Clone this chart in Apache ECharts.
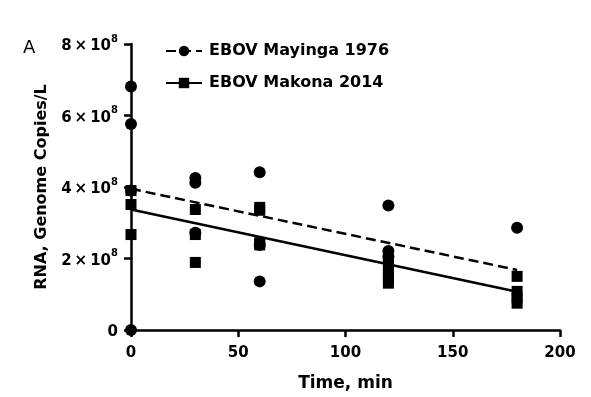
<!DOCTYPE html>
<html>
<head>
<meta charset="utf-8">
<script src="https://cdn.jsdelivr.net/npm/echarts@6/dist/echarts.min.js"></script>
<style>
  html, body { margin: 0; padding: 0; background: #fff; }
  #chart { width: 591px; height: 397px; }
</style>
</head>
<body>
<div id="chart"></div>
<script>
  // raw points, [time min, copies/L]
  var mayingaPoints = [
      [0, 6.81e8], [0, 5.76e8], [0, 3.9e8], [0, 0],
      [30, 4.25e8], [30, 4.12e8], [30, 2.72e8],
      [60, 4.41e8], [60, 2.38e8], [60, 1.36e8],
      [120, 3.48e8], [120, 2.21e8], [120, 2.05e8],
      [180, 2.86e8]
  ];
  var makonaPoints = [
      [0, 3.9e8], [0, 3.51e8], [0, 2.67e8],
      [30, 3.37e8], [30, 2.67e8], [30, 1.89e8],
      [60, 3.43e8], [60, 3.35e8], [60, 2.44e8], [60, 2.38e8],
      [120, 1.98e8], [120, 1.8e8], [120, 1.62e8], [120, 1.45e8], [120, 1.31e8],
      [180, 1.5e8], [180, 1.08e8], [180, 0.9e8], [180, 0.75e8]
  ];
  // fitted regression lines (end points)
  var mayingaFit = [[0, 3.95e8], [180, 1.68e8]];
  var makonaFit = [[0, 3.37e8], [180, 1.07e8]];

  var xTicks = [0, 50, 100, 150, 200];
  var yTicks = [0, 2e8, 4e8, 6e8, 8e8];

  var font = 'DejaVu Sans';

  var chart = echarts.init(document.getElementById('chart'));

  var option = {
      animation: false,
      textStyle: { fontFamily: font, color: '#000' },
      title: {
          text: 'A',
          left: 18,
          top: 34,
          textStyle: { fontFamily: font, fontSize: 18, fontWeight: 'normal', color: '#000' }
      },
      legend: {
          data: ['EBOV Mayinga 1976', 'EBOV Makona 2014'],
          orient: 'vertical',
          left: 160,
          top: 38,
          itemWidth: 36,
          itemHeight: 13,
          itemGap: 16,
          textStyle: { fontFamily: font, fontSize: 16, fontWeight: 'bold', color: '#000', padding: [0, 0, 0, 2] }
      },
      grid: { left: 131, right: 31, top: 44, bottom: 66 },
      xAxis: {
          type: 'value',
          min: xTicks[0],
          max: xTicks[xTicks.length - 1],
          interval: 50,
          name: 'Time, min',
          nameLocation: 'middle',
          nameGap: 45,
          nameTextStyle: { fontFamily: font, fontSize: 17, fontWeight: 'bold', color: '#000' },
          axisLine: { show: true, lineStyle: { color: '#000', width: 2.5 } },
          axisTick: { show: true, length: 7, lineStyle: { color: '#000', width: 2.5 } },
          axisLabel: { fontFamily: font, fontSize: 15, fontWeight: 'bold', color: '#000', margin: 16 },
          splitLine: { show: false }
      },
      yAxis: {
          type: 'value',
          min: yTicks[0],
          max: yTicks[yTicks.length - 1],
          interval: 2e8,
          name: 'RNA, Genome Copies/L',
          nameLocation: 'middle',
          nameGap: 81,
          nameTextStyle: { fontFamily: font, fontSize: 16, fontWeight: 'bold', color: '#000' },
          axisLine: { show: true, lineStyle: { color: '#000', width: 2.5 } },
          axisTick: { show: true, length: 7, lineStyle: { color: '#000', width: 2.5 } },
          axisLabel: {
              margin: 13,
              formatter: function (v) {
                  if (v === 0) return '{b|0}';
                  return '{b|' + (v / 1e8) + '\u2009\u00d7\u200910}{s|8}';
              },
              rich: {
                  b: { fontFamily: font, fontSize: 15, fontWeight: 'bold', color: '#000', verticalAlign: 'bottom', lineHeight: 20 },
                  s: { fontFamily: font, fontSize: 10, fontWeight: 'bold', color: '#000', verticalAlign: 'top', lineHeight: 20 }
              }
          },
          splitLine: { show: false }
      },
      series: [
          {
              name: 'EBOV Mayinga 1976',
              type: 'line',
              data: mayingaFit,
              symbol: 'circle',
              symbolSize: 11,
              showSymbol: false,
              color: '#000',
              lineStyle: { color: '#000', width: 2.5, type: [10, 5] },
              z: 3
          },
          {
              name: 'EBOV Makona 2014',
              type: 'line',
              data: makonaFit,
              symbol: 'rect',
              symbolSize: 11,
              showSymbol: false,
              color: '#000',
              lineStyle: { color: '#000', width: 2.5 },
              z: 3
          },
          {
              name: 'Mayinga points',
              type: 'scatter',
              data: mayingaPoints,
              symbol: 'circle',
              symbolSize: 12,
              itemStyle: { color: '#000', opacity: 1 },
              z: 4
          },
          {
              name: 'Makona points',
              type: 'scatter',
              data: makonaPoints,
              symbol: 'rect',
              symbolSize: 11,
              itemStyle: { color: '#000', opacity: 1 },
              z: 5
          }
      ]
  };

  chart.setOption(option);
</script>
</body>
</html>
